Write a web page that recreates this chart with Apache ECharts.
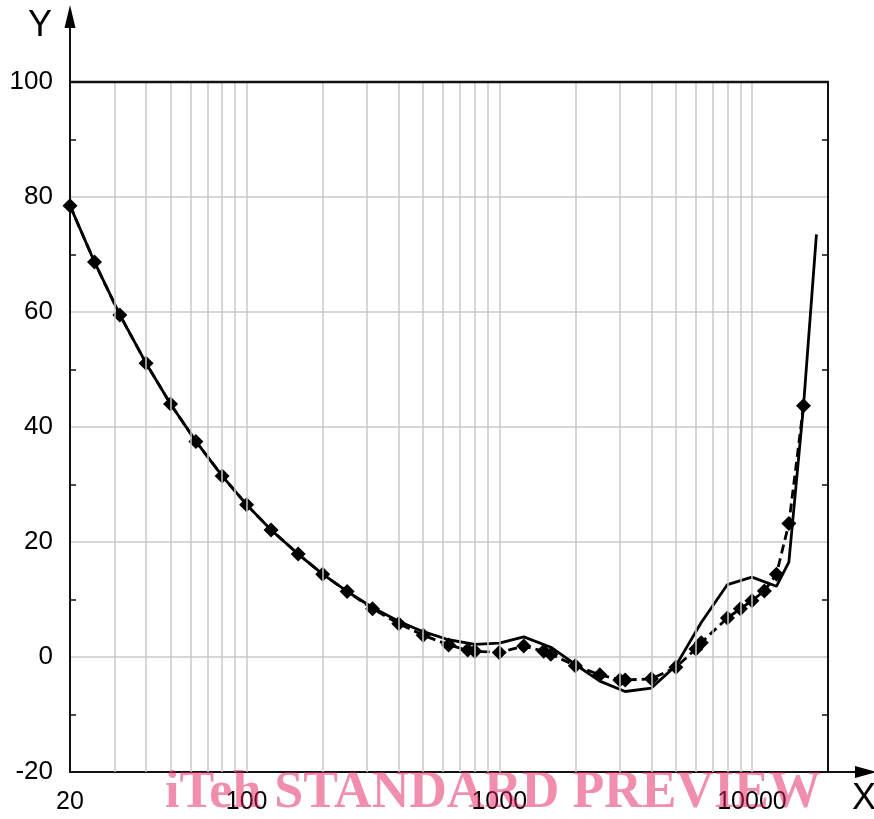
<!DOCTYPE html>
<html>
<head>
<meta charset="utf-8">
<script src="https://cdn.jsdelivr.net/npm/echarts@6/dist/echarts.min.js"></script>
<style>
html,body{margin:0;padding:0;background:#fff;}
#c{width:874px;height:819px;}
</style>
</head>
<body>
<div id="c"></div>
<script>
// ---- data ----
const freqSolid = [20,25,31.5,40,50,63,80,100,125,160,200,250,315,400,500,630,800,1000,1250,1600,2000,2500,3150,4000,5000,6300,8000,10000,12500,14000,16000,18000];
const valSolid  = [78.5,68.7,59.5,51.1,44.0,37.5,31.5,26.5,22.1,17.9,14.4,11.4,8.6,6.2,4.4,3.0,2.2,2.4,3.5,1.7,-1.3,-4.2,-6.0,-5.4,-1.5,6.0,12.6,13.9,12.3,16.5,43.7,73.5];
const freqDash  = [20,25,31.5,40,50,63,80,100,125,160,200,250,315,400,500,630,750,800,1000,1250,1500,1600,2000,2500,3000,3150,4000,5000,6000,6300,8000,9000,10000,11200,12500,14000,16000];
const valDash   = [78.5,68.7,59.5,51.1,44.0,37.5,31.5,26.5,22.1,17.9,14.4,11.4,8.4,5.8,3.8,2.1,1.2,1.0,0.8,1.9,1.0,0.5,-1.5,-3.1,-4.0,-4.0,-3.8,-1.8,1.4,2.5,6.8,8.4,9.8,11.5,14.4,23.2,43.7];
const gridFreqs = [30,40,50,60,70,80,90,100,200,300,400,500,600,700,800,900,1000,2000,3000,4000,5000,6000,7000,8000,9000,10000];
const xTickLabels = [20,100,1000,10000];
const yTicks = [-20,0,20,40,60,80,100];
const xName = 'X', yName = 'Y';
const watermark = 'iTeh STANDARD PREVIEW';

const chart = echarts.init(document.getElementById('c'), null, {renderer:'canvas'});
const FONT = "'Liberation Sans', Arial, sans-serif";
const pair = (fs, vs) => fs.map((f,i)=>[f, vs[i]]);

const option = {
  animation:false,
  backgroundColor:'#fff',
  grid:{left:70, right:46, top:82, bottom:47, show:false},
  xAxis:[{
    type:'log', logBase:10, min:20, max:20000,
    axisLine:{show:true, onZero:false, lineStyle:{color:'#111', width:2}},
    axisTick:{show:false},
    splitLine:{show:false},
    axisLabel:{
      show:true, color:'#000', fontFamily:FONT, fontSize:25, margin:18,
      formatter:(v)=>{const r=Math.round(v); return xTickLabels.includes(r)?String(r):'';}
    }
  }],
  yAxis:[{
    type:'value', min:yTicks[0], max:yTicks[yTicks.length-1], interval:20,
    axisLine:{show:true, onZero:false, lineStyle:{color:'#111', width:2}},
    axisTick:{show:false, inside:true},
    minorTick:{show:true, splitNumber:2, length:6, lineStyle:{color:'#111', width:1.5}},
    splitLine:{show:true, lineStyle:{color:'#c8c8c8', width:1.5}},
    axisLabel:{color:'#000', fontFamily:FONT, fontSize:26, margin:17}
  },{
    type:'value', position:'right', min:yTicks[0], max:yTicks[yTicks.length-1], interval:20,
    axisLine:{show:true, onZero:false, lineStyle:{color:'#111', width:2}},
    axisTick:{show:false, inside:true},
    minorTick:{show:true, splitNumber:2, length:6, lineStyle:{color:'#111', width:1.5}},
    splitLine:{show:false},
    axisLabel:{show:false}
  }],
  series:[
    {
      type:'line', name:'grid', data:[], silent:true,
      markLine:{
        silent:true, symbol:['none','none'], animation:false,
        label:{show:false},
        lineStyle:{color:'#c8c8c8', width:1.5, type:'solid'},
        data:gridFreqs.map(f=>({xAxis:f}))
      },
      z:1
    },
    {
      type:'line', name:'solid', data:pair(freqSolid, valSolid),
      showSymbol:false, symbol:'none', smooth:false,
      lineStyle:{color:'#000', width:2.8, type:'solid'}, z:3
    },
    {
      type:'line', name:'dashed', data:pair(freqDash, valDash),
      symbol:'diamond', symbolSize:15, showSymbol:true,
      itemStyle:{color:'#000'},
      lineStyle:{color:'#000', width:2.8, type:[9,5]}, z:4
    }
  ]
};
chart.setOption(option);

const p0 = chart.convertToPixel({xAxisIndex:0, yAxisIndex:0}, [20, -20]);
const p1 = chart.convertToPixel({xAxisIndex:0, yAxisIndex:0}, [20000, 100]);
const axX = p0[0], axY = p0[1], rX = p1[0], topY = p1[1];
chart.setOption({
  graphic:[
    {type:'line', shape:{x1:axX, y1:topY, x2:rX+1, y2:topY}, style:{stroke:'#111', lineWidth:2.5}, z:50},
    {type:'line', shape:{x1:axX, y1:topY, x2:axX, y2:24}, style:{stroke:'#111', lineWidth:2}, z:50},
    {type:'polygon', shape:{points:[[axX,5],[axX-5.5,28],[axX+5.5,28]]}, style:{fill:'#000'}, z:50},
    {type:'line', shape:{x1:rX-2, y1:axY, x2:858, y2:axY}, style:{stroke:'#111', lineWidth:2}, z:50},
    {type:'polygon', shape:{points:[[877,axY],[855,axY-6],[855,axY+6]]}, style:{fill:'#000'}, z:50},
    {type:'text', left:28, top:8, style:{text:yName, font:"36px 'Liberation Sans', Arial", fill:'#000'}, z:50},
    {type:'text', left:852, top:781, style:{text:xName, font:"36px 'Liberation Sans', Arial", fill:'#000'}, z:50},
    {type:'text', x:165, y:794, style:{text:watermark, font:"bold 52px 'Liberation Serif', 'Times New Roman', serif", fill:'rgba(225,30,90,0.5)', verticalAlign:'middle'}, z:60}
  ]
});
</script>
</body>
</html>
